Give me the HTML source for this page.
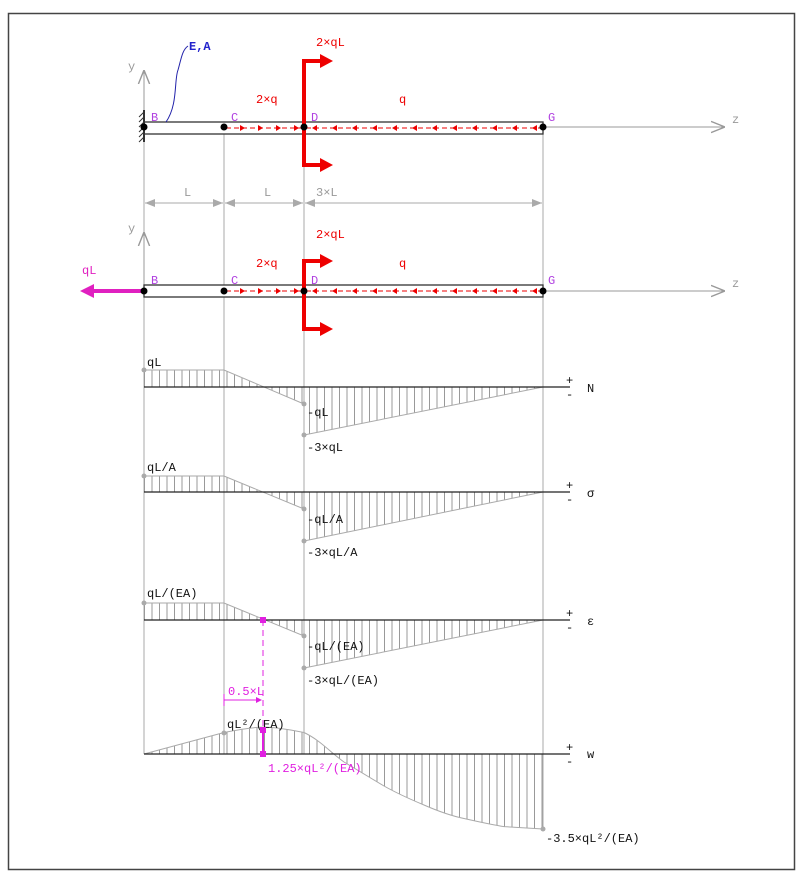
<!DOCTYPE html>
<html><head><meta charset="utf-8"><style>
html,body{margin:0;padding:0;background:#fff;}
svg{display:block;}
text{font-family:"Liberation Mono",monospace;font-size:12px;}
</style></head><body>
<svg width="807" height="882" viewBox="0 0 807 882" xmlns="http://www.w3.org/2000/svg">
<defs>
<pattern id="h" width="7.5" height="10" patternUnits="userSpaceOnUse" x="144">
<line x1="0.5" y1="0" x2="0.5" y2="10" stroke="#999" stroke-width="1"/>
</pattern>
<marker id="oa" viewBox="0 0 10 10" refX="10" refY="5" markerWidth="14" markerHeight="14" orient="auto" markerUnits="userSpaceOnUse"><path d="M0,1 L10,5 L0,9" fill="none" stroke="#999" stroke-width="1"/></marker>
<marker id="da" viewBox="0 0 10 10" refX="10" refY="5" markerWidth="10" markerHeight="10" orient="auto" markerUnits="userSpaceOnUse"><path d="M0,1 L10,5 L0,9Z" fill="#aaa"/></marker>
</defs>
<rect x="8.5" y="13.5" width="786" height="856" fill="none" stroke="#444" stroke-width="1.5"/>

<g stroke="#aaa" stroke-width="1">
<line x1="144" y1="134" x2="144" y2="754"/>
<line x1="224" y1="134" x2="224" y2="754"/>
<line x1="304" y1="134" x2="304" y2="754"/>
<line x1="543" y1="134" x2="543" y2="829"/>
</g>

<!-- Beam 1 -->
<line x1="144" y1="127" x2="725" y2="127" stroke="#999" marker-end="url(#oa)"/>
<text x="732" y="123" fill="#999">z</text>
<line x1="144" y1="122" x2="144" y2="70" stroke="#999" marker-end="url(#oa)"/>
<text x="128" y="70" fill="#999">y</text>
<rect x="144" y="122" width="399" height="12" fill="#fff" stroke="#333" stroke-width="1.3"/>
<line x1="144" y1="110" x2="144" y2="142" stroke="#333" stroke-width="2"/>
<g stroke="#333" stroke-width="1">
<line x1="144" y1="112" x2="139" y2="117"/><line x1="144" y1="117" x2="139" y2="122"/><line x1="144" y1="122" x2="139" y2="127"/><line x1="144" y1="127" x2="139" y2="132"/><line x1="144" y1="132" x2="139" y2="137"/><line x1="144" y1="137" x2="139" y2="142"/>
</g>
<path d="M166,122 C178,105 174,80 178,70 C181,60 182,50 188,46" fill="none" stroke="#22a" stroke-width="1"/>
<text x="189" y="50" fill="#22c" font-weight="bold">E,A</text>
<g fill="#b040e0"><text x="151" y="121">B</text><text x="231" y="121">C</text><text x="311" y="121">D</text><text x="548" y="121">G</text></g>
<g stroke="#e00" stroke-width="1" stroke-dasharray="5,3"><line x1="226" y1="128" x2="302" y2="128"/><line x1="306" y1="128" x2="541" y2="128"/></g>
<g fill="#e00">
<path d="M240,125 l5,3 -5,3z"/><path d="M258,125 l5,3 -5,3z"/><path d="M276,125 l5,3 -5,3z"/><path d="M294,125 l5,3 -5,3z"/>
<path d="M317,125 l-5,3 5,3z"/><path d="M337,125 l-5,3 5,3z"/><path d="M357,125 l-5,3 5,3z"/><path d="M377,125 l-5,3 5,3z"/><path d="M397,125 l-5,3 5,3z"/><path d="M417,125 l-5,3 5,3z"/><path d="M437,125 l-5,3 5,3z"/><path d="M457,125 l-5,3 5,3z"/><path d="M477,125 l-5,3 5,3z"/><path d="M497,125 l-5,3 5,3z"/><path d="M517,125 l-5,3 5,3z"/><path d="M537,125 l-5,3 5,3z"/>
</g>
<g fill="#e00" stroke="none">
<rect x="302" y="59" width="4" height="108"/>
<rect x="302" y="59" width="20" height="4"/><path d="M320,54 l13,7 -13,7z"/>
<rect x="302" y="163" width="20" height="4"/><path d="M320,158 l13,7 -13,7z"/>
</g>
<text x="316" y="46" fill="#e00" font-size="13">2×qL</text>
<text x="256" y="103" fill="#e00" font-size="13">2×q</text>
<text x="399" y="103" fill="#e00" font-size="13">q</text>
<g fill="#000"><circle cx="144" cy="127" r="3.5"/><circle cx="224" cy="127" r="3.5"/><circle cx="304" cy="127" r="3.5"/><circle cx="543" cy="127" r="3.5"/></g>

<!-- dimensions -->
<g stroke="#aaa" stroke-width="1">
<line x1="145" y1="203" x2="223" y2="203" marker-end="url(#da)"/>
<line x1="223" y1="203" x2="145" y2="203" marker-end="url(#da)"/>
<line x1="225" y1="203" x2="303" y2="203" marker-end="url(#da)"/>
<line x1="303" y1="203" x2="225" y2="203" marker-end="url(#da)"/>
<line x1="305" y1="203" x2="542" y2="203" marker-end="url(#da)"/>
<line x1="542" y1="203" x2="305" y2="203" marker-end="url(#da)"/>
</g>
<g fill="#999"><text x="184" y="196">L</text><text x="264" y="196">L</text><text x="316" y="196">3×L</text></g>

<!-- Beam 2 -->
<line x1="144" y1="291" x2="725" y2="291" stroke="#999" marker-end="url(#oa)"/>
<text x="732" y="287" fill="#999">z</text>
<line x1="144" y1="285" x2="144" y2="232" stroke="#999" marker-end="url(#oa)"/>
<text x="128" y="232" fill="#999">y</text>
<rect x="144" y="285" width="399" height="12" fill="#fff" stroke="#333" stroke-width="1.3"/>
<g fill="#b040e0"><text x="151" y="284">B</text><text x="231" y="284">C</text><text x="311" y="284">D</text><text x="548" y="284">G</text></g>
<g stroke="#e00" stroke-width="1" stroke-dasharray="5,3"><line x1="226" y1="291" x2="302" y2="291"/><line x1="306" y1="291" x2="541" y2="291"/></g>
<g fill="#e00">
<path d="M240,288 l5,3 -5,3z"/><path d="M258,288 l5,3 -5,3z"/><path d="M276,288 l5,3 -5,3z"/><path d="M294,288 l5,3 -5,3z"/>
<path d="M317,288 l-5,3 5,3z"/><path d="M337,288 l-5,3 5,3z"/><path d="M357,288 l-5,3 5,3z"/><path d="M377,288 l-5,3 5,3z"/><path d="M397,288 l-5,3 5,3z"/><path d="M417,288 l-5,3 5,3z"/><path d="M437,288 l-5,3 5,3z"/><path d="M457,288 l-5,3 5,3z"/><path d="M477,288 l-5,3 5,3z"/><path d="M497,288 l-5,3 5,3z"/><path d="M517,288 l-5,3 5,3z"/><path d="M537,288 l-5,3 5,3z"/>
</g>
<g fill="#e00">
<rect x="302" y="259" width="4" height="72"/>
<rect x="302" y="259" width="20" height="4"/><path d="M320,254 l13,7 -13,7z"/>
<rect x="302" y="327" width="20" height="4"/><path d="M320,322 l13,7 -13,7z"/>
</g>
<text x="316" y="238" fill="#e00" font-size="13">2×qL</text>
<text x="256" y="267" fill="#e00" font-size="13">2×q</text>
<text x="399" y="267" fill="#e00" font-size="13">q</text>
<g fill="#e020c0"><rect x="92" y="289" width="52" height="4"/><path d="M94,284 l-14,7 14,7z"/></g>
<text x="82" y="274" fill="#e020c0" font-size="13">qL</text>
<g fill="#000"><circle cx="144" cy="291" r="3.5"/><circle cx="224" cy="291" r="3.5"/><circle cx="304" cy="291" r="3.5"/><circle cx="543" cy="291" r="3.5"/></g>

<!-- N -->
<path d="M144,387 L144,370 L224,370 L304,404 L304,435 L543,387Z" fill="url(#h)" stroke="none"/>
<path d="M144,370 L224,370 L304,404 M304,435 L543,387" fill="none" stroke="#aaa"/>
<line x1="144" y1="387" x2="570" y2="387" stroke="#222" stroke-width="1.3"/>
<g fill="#aaa"><circle cx="144" cy="370" r="2.5"/><circle cx="304" cy="404" r="2.5"/><circle cx="304" cy="435" r="2.5"/></g>
<g fill="#111"><text x="147" y="366">qL</text><text x="307" y="416">-qL</text><text x="307" y="451">-3×qL</text>
<text x="566" y="384" font-size="14">+</text><text x="566" y="398" font-size="14">-</text><text x="587" y="392" font-size="14">N</text></g>

<!-- sigma -->
<path d="M144,492 L144,476 L224,476 L304,509 L304,541 L543,492Z" fill="url(#h)"/>
<path d="M144,476 L224,476 L304,509 M304,541 L543,492" fill="none" stroke="#aaa"/>
<line x1="144" y1="492" x2="570" y2="492" stroke="#222" stroke-width="1.3"/>
<g fill="#aaa"><circle cx="144" cy="476" r="2.5"/><circle cx="304" cy="509" r="2.5"/><circle cx="304" cy="541" r="2.5"/></g>
<g fill="#111"><text x="147" y="471">qL/A</text><text x="307" y="523">-qL/A</text><text x="307" y="556">-3×qL/A</text>
<text x="566" y="489" font-size="14">+</text><text x="566" y="503" font-size="14">-</text><text x="587" y="497" font-size="14">σ</text></g>

<!-- epsilon -->
<path d="M144,620 L144,603 L224,603 L304,636 L304,668 L543,620Z" fill="url(#h)"/>
<path d="M144,603 L224,603 L304,636 M304,668 L543,620" fill="none" stroke="#aaa"/>
<line x1="144" y1="620" x2="570" y2="620" stroke="#222" stroke-width="1.3"/>
<g fill="#aaa"><circle cx="144" cy="603" r="2.5"/><circle cx="304" cy="636" r="2.5"/><circle cx="304" cy="668" r="2.5"/></g>
<g fill="#111"><text x="147" y="597">qL/(EA)</text><text x="307" y="650">-qL/(EA)</text><text x="307" y="684">-3×qL/(EA)</text>
<text x="566" y="617" font-size="14">+</text><text x="566" y="631" font-size="14">-</text><text x="587" y="625" font-size="14">ε</text></g>

<!-- w -->
<path d="M144,754 L224,732.5 C244,728.5 254,727.1 264,727.1 C274,727.1 284,728.5 304,732.5 C320,740 330,752 344,762 L384,786 C400,795 412,800 424,805 C440,812 452,816 464,818.5 C484,823 500,826 504,826.6 L543,829 L543,754Z" fill="url(#h)"/>
<path d="M144,754 L224,732.5 C244,728.5 254,727.1 264,727.1 C274,727.1 284,728.5 304,732.5 C320,740 330,752 344,762 L384,786 C400,795 412,800 424,805 C440,812 452,816 464,818.5 C484,823 500,826 504,826.6 L543,829" fill="none" stroke="#aaa"/>
<line x1="144" y1="754" x2="570" y2="754" stroke="#222" stroke-width="1.3"/>
<g fill="#aaa"><circle cx="224" cy="733" r="2.5"/><circle cx="543" cy="829" r="2.5"/></g>
<g fill="#111"><text x="227" y="728">qL²/(EA)</text><text x="546" y="842">-3.5×qL²/(EA)</text>
<text x="566" y="751" font-size="14">+</text><text x="566" y="765" font-size="14">-</text><text x="587" y="758" font-size="14">w</text></g>

<!-- magenta extremum -->
<line x1="263" y1="620" x2="263" y2="754" stroke="#e020e0" stroke-dasharray="6,4"/>
<line x1="263" y1="729" x2="263" y2="754" stroke="#e020e0" stroke-width="2"/>
<rect x="260" y="617" width="6" height="6" fill="#e020e0"/>
<rect x="260" y="727" width="6" height="6" fill="#e020e0"/>
<rect x="260" y="751" width="6" height="6" fill="#e020e0"/>
<line x1="224" y1="700" x2="258" y2="700" stroke="#e020e0"/><path d="M256,697 l6,3 -6,3z" fill="#e020e0"/>
<line x1="224" y1="694" x2="224" y2="706" stroke="#e020e0"/>
<text x="228" y="695" fill="#e020e0">0.5×L</text>
<text x="268" y="772" fill="#e020e0">1.25×qL²/(EA)</text>
</svg>
</body></html>
